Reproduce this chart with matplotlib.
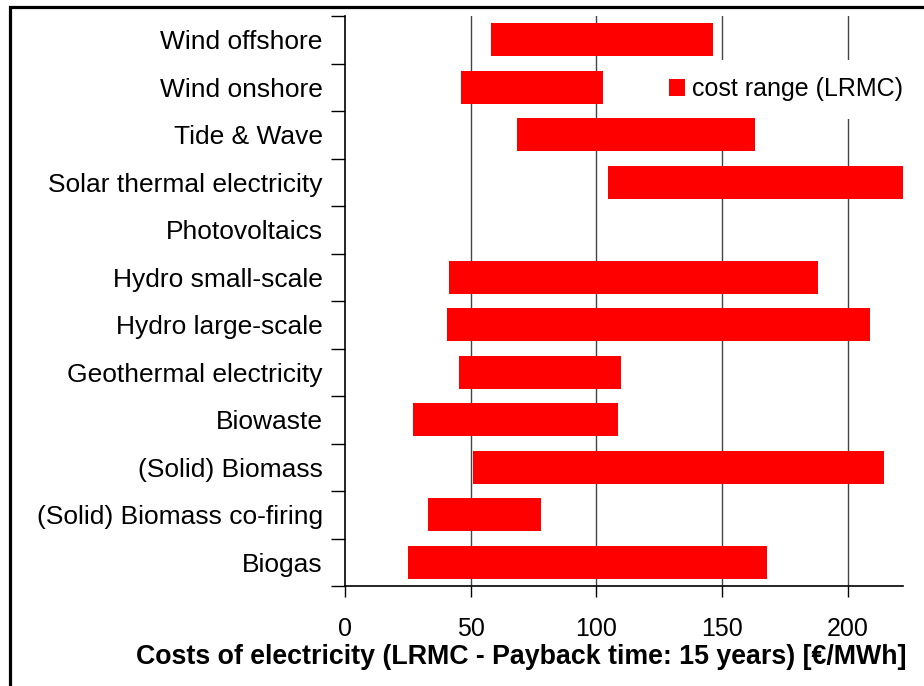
import matplotlib
matplotlib.use("Agg")
import matplotlib.pyplot as plt
from matplotlib.patches import Rectangle, Patch

plt.rcParams['font.family'] = ['Liberation Sans', 'DejaVu Sans']

categories = ["Wind offshore", "Wind onshore", "Tide & Wave", "Solar thermal electricity",
              "Photovoltaics", "Hydro small-scale", "Hydro large-scale",
              "Geothermal electricity", "Biowaste", "(Solid) Biomass",
              "(Solid) Biomass co-firing", "Biogas"]
cost_low = [58, 46, 68.5, 104.5, 300, 41.5, 40.5, 45.5, 27, 51, 33, 25]
cost_high = [146.5, 102.5, 163, 250, 900, 188, 209, 110, 108.5, 214.5, 78, 168]
xticks = [0, 50, 100, 150, 200]
x_max = 222
legend_label = "cost range (LRMC)"
xlabel = "Costs of electricity (LRMC - Payback time: 15 years) [€/MWh]"

W, H = 924, 686
fig = plt.figure(figsize=(W / 100, H / 100), dpi=100)
ax_l, ax_r, ax_t, ax_b = 345, 903, 16, 586
ax = fig.add_axes([ax_l / W, 1 - ax_b / H, (ax_r - ax_l) / W, (ax_b - ax_t) / H])

n = len(categories)
ypos = [n - 1 - i for i in range(n)]
widths = [h - l for l, h in zip(cost_low, cost_high)]
ax.barh(ypos, widths, left=cost_low, height=0.69, color='#ff0000', zorder=3)

ax.set_xlim(0, x_max)
ax.set_ylim(-0.5, n - 0.5)
ax.set_xticks(xticks)
ax.set_xticklabels([str(t) for t in xticks], fontsize=18)
ax.set_yticks(ypos)
ax.set_yticklabels(categories, fontsize=19)
ax.set_yticks([y - 0.5 for y in range(n + 1)], minor=True)
ax.tick_params(axis='y', which='major', length=0, pad=16)
ax.tick_params(axis='y', which='minor', length=10, width=1, color='black', direction='out')
ax.tick_params(axis='x', which='major', length=8, width=1, direction='out', pad=14)

for t in xticks[1:]:
    ax.axvline(t, color='#444444', lw=1, zorder=1)

for s in ['top', 'right']:
    ax.spines[s].set_visible(False)
for s in ['left', 'bottom']:
    ax.spines[s].set_linewidth(1.2)

fig.text(521 / W, 1 - 657 / H, xlabel, fontsize=19.3, fontweight='bold',
         ha='center', va='center')

handle = Patch(facecolor='#ff0000', edgecolor='none')
anchor_x = (651 - ax_l) / (ax_r - ax_l)
anchor_y = 1 - (89 - ax_t) / (ax_b - ax_t)
leg = ax.legend([handle], [legend_label], loc='center left',
                bbox_to_anchor=(anchor_x, anchor_y), borderaxespad=0,
                fontsize=18, frameon=True, framealpha=1, edgecolor='none', facecolor='white',
                handlelength=0.65, handleheight=0.65, handletextpad=0.3, borderpad=0.7,
                fancybox=False)
leg.set_zorder(2)

fig.patches.append(Rectangle((9.5 / W, -0.1), 1.2, 1 - 6.5 / H + 0.1, transform=fig.transFigure,
                             fill=False, edgecolor='black', lw=2.3))

fig.savefig("out.png", dpi=100)
